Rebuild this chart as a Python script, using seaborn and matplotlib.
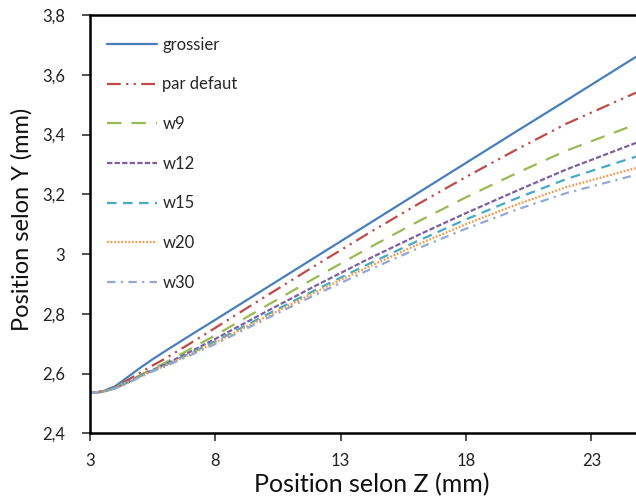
import seaborn as sns
import matplotlib
matplotlib.use("Agg")
import matplotlib.pyplot as plt

# Position along Z (mm), shared by every series
z = [3, 3.5, 4, 4.5, 5, 5.5, 6, 7, 8, 10, 12, 14, 16, 18, 20, 22, 24.78]

# Position along Y (mm) for each mesh
grossier = [2.535, 2.540, 2.557, 2.588, 2.619, 2.648, 2.675, 2.728, 2.780, 2.885, 2.990,
            3.095, 3.200, 3.305, 3.410, 3.514, 3.660]
par_defaut = [2.535, 2.540, 2.555, 2.578, 2.603, 2.627, 2.650, 2.701, 2.753, 2.858, 2.962,
              3.064, 3.163, 3.258, 3.349, 3.436, 3.540]
w9 = [2.535, 2.539, 2.552, 2.573, 2.595, 2.616, 2.636, 2.682, 2.728, 2.825, 2.921,
      3.015, 3.105, 3.190, 3.270, 3.346, 3.434]
w12 = [2.535, 2.539, 2.551, 2.571, 2.592, 2.612, 2.631, 2.673, 2.716, 2.806, 2.894,
       2.979, 3.060, 3.137, 3.211, 3.283, 3.372]
w15 = [2.535, 2.539, 2.551, 2.570, 2.591, 2.610, 2.628, 2.668, 2.708, 2.795, 2.880,
       2.962, 3.041, 3.116, 3.186, 3.251, 3.326]
w20 = [2.535, 2.539, 2.550, 2.569, 2.590, 2.609, 2.626, 2.665, 2.704, 2.789, 2.873,
       2.953, 3.029, 3.100, 3.165, 3.224, 3.288]
w30 = [2.535, 2.539, 2.550, 2.568, 2.588, 2.607, 2.624, 2.661, 2.699, 2.782, 2.864,
       2.942, 3.016, 3.085, 3.148, 3.204, 3.265]

labels = ["grossier", "par defaut", "w9", "w12", "w15", "w20", "w30"]
series = [grossier, par_defaut, w9, w12, w15, w20, w30]

x_ticks = [3, 8, 13, 18, 23]
y_ticks = [2.4, 2.6, 2.8, 3.0, 3.2, 3.4, 3.6, 3.8]
y_tick_labels = ["2,4", "2,6", "2,8", "3", "3,2", "3,4", "3,6", "3,8"]

colors = ["#4A7EBB", "#BE4B48", "#98B954", "#7D60A0", "#46AAC5", "#F79646", "#93A9D3"]
styles = [
    "-",
    (0, (6.2, 2.4, 1, 2.4, 1, 2.4)),
    (0, (6.5, 4.5)),
    (0, (2.4, 1.0)),
    (0, (4.3, 2.9)),
    (0, (0.8, 0.8)),
    (0, (3.8, 2.4, 1, 2.4)),
]

sns.set_style("ticks")
plt.rcParams["font.family"] = ["Lato", "DejaVu Sans"]

fig = plt.figure(figsize=(6.36, 5.0), dpi=100)
ax = fig.add_axes([0.1415, 0.1334, 0.8585, 0.8366])

for lab, ys, c, ls in zip(labels, series, colors, styles):
    sns.lineplot(x=z, y=ys, ax=ax, color=c, linestyle=ls, linewidth=1.6, label=lab)

ax.set_xlim(3, 24.78)
ax.set_ylim(2.4, 3.8)
ax.set_xticks(x_ticks)
ax.set_xticklabels([str(t) for t in x_ticks])
ax.set_yticks(y_ticks)
ax.set_yticklabels(y_tick_labels)
ax.tick_params(axis="both", direction="out", length=6, width=1.2, colors="#333333",
               labelsize=12, labelcolor="#222222")
ax.tick_params(axis="x", pad=8)
ax.tick_params(axis="y", pad=12)

for side in ["left", "bottom", "top"]:
    ax.spines[side].set_linewidth(1.8)
    ax.spines[side].set_color("black")
ax.spines["right"].set_visible(False)

ax.set_xlabel("Position selon Z (mm)", fontsize=18, color="#111111")
ax.set_ylabel("Position selon Y (mm)", fontsize=17, color="#111111")
ax.xaxis.set_label_coords(0.5165, -0.096)
ax.yaxis.set_label_coords(-0.106, 0.512)

ax.legend(loc="upper left", bbox_to_anchor=(0.0, 0.988), frameon=False,
          fontsize=12, labelspacing=1.42, handlelength=3.0, handletextpad=0.35,
          borderaxespad=0.6, borderpad=0.4)

fig.savefig("out.png", dpi=100)
